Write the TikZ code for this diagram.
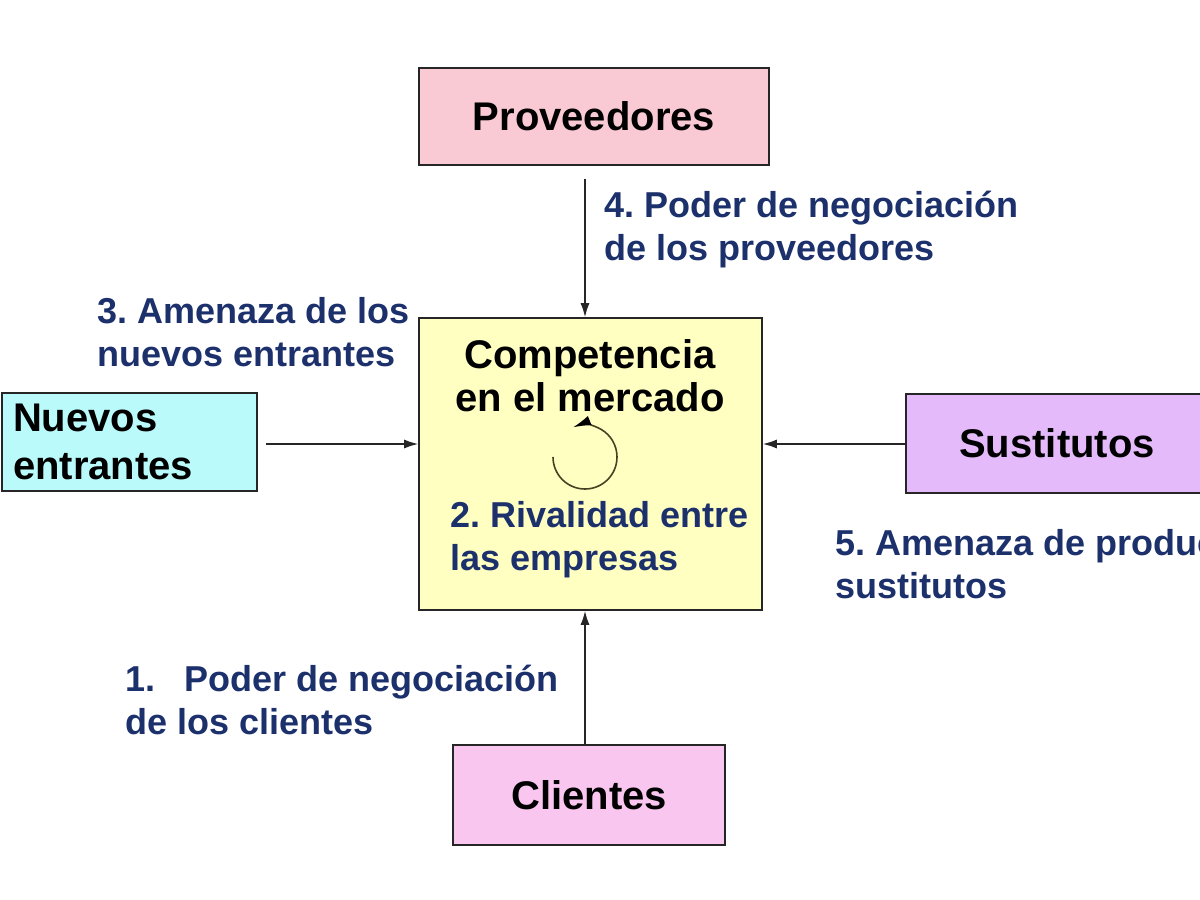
\documentclass[tikz,border=0pt]{standalone}
\usepackage{fontspec}
\setmainfont{Liberation Sans}
\usetikzlibrary{arrows.meta}
\frenchspacing

\definecolor{provfill}{RGB}{250,202,212}
\definecolor{clifill}{RGB}{248,198,238}
\definecolor{sustfill}{RGB}{228,186,250}
\definecolor{nuevfill}{RGB}{186,250,250}
\definecolor{compfill}{RGB}{255,255,194}
\definecolor{fuerza}{RGB}{28,48,108}
\definecolor{giro}{RGB}{70,66,36}

\begin{document}
\begin{tikzpicture}[x=1pt,y=-1pt,
		box/.style = {draw=black!85, line width=1.6pt, inner sep=0pt,
			font=\fontsize{40}{43}\selectfont\bfseries},
		fuerzalbl/.style = {anchor=west, align=left, inner sep=0pt, text=fuerza,
			font=\fontsize{36}{43}\selectfont\bfseries},
		arr/.style = {draw=black!85, line width=1.4pt, -{Latex[length=14pt,width=9pt]}}]
		\useasboundingbox (0,0) rectangle (1200,900);
		\clip (0,0) rectangle (1200,900);
		\fill[white] (0,0) rectangle (1200,900);
		%
		\node (prov)[box, fill=provfill, minimum width=350, minimum height=97] at (594,116.5){Proveedores};
		\node (comp)[box, fill=compfill, minimum width=343, minimum height=292] at (590.5,464){};
		\node (nuev)[box, fill=nuevfill, minimum height=98, text width=233, align=left, inner xsep=11pt,
			font=\fontsize{40}{48}\selectfont\bfseries] at (129.5,442){Nuevos\\entrantes};
		\node (sust)[box, fill=sustfill, minimum width=302, minimum height=99] at (1057,443.5){Sustitutos};
		\node (clien)[box, fill=clifill, minimum width=272, minimum height=100] at (589,795){Clientes};
		%
		\node (mercado)[box, draw=none, align=center] at (590,376){Competencia\\en el mercado};
		\node (rival)[fuerzalbl] at (450,540){2. Rivalidad entre\\las empresas};
		\draw[giro, line width=1.6pt, -{Latex[length=18pt,width=10pt,black]}] (553,457) arc (180:-112:32);
		%
		\coordinate (axis) at (585,0);
		\coordinate (mid) at (0,444);
		\draw[arr, shorten <=13pt] (prov.south -| axis) -- (comp.north -| axis);
		\draw[arr] (clien.north -| axis) -- (comp.south -| axis);
		\draw[arr, shorten <=8pt] (nuev.east |- mid) -- (comp.west |- mid);
		\draw[arr] (sust.west |- mid) -- (comp.east |- mid);
		%
		\node (f4)[fuerzalbl] at (604,230){4. Poder de negociación\\de los proveedores};
		\node (f3)[fuerzalbl] at (97,332){3. Amenaza de los\\nuevos entrantes};
		\node (f5)[fuerzalbl] at (835,564){5. Amenaza de productos\\sustitutos};
		\node (f1)[fuerzalbl] at (125,700){1.\hspace{29pt}Poder de negociación\\de los clientes};
	\end{tikzpicture}
\end{document}
